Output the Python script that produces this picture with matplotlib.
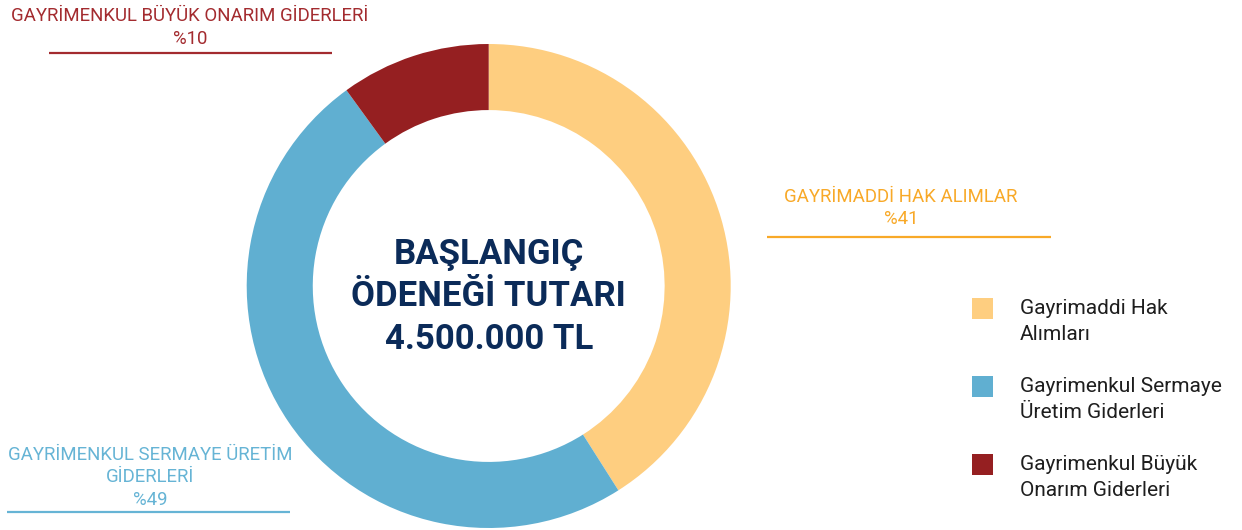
import matplotlib
matplotlib.use("Agg")
import matplotlib.pyplot as plt
from matplotlib.patches import Rectangle

# Data
categories = ["Gayrimaddi Hak\nAlımları",
              "Gayrimenkul Sermaye\nÜretim Giderleri",
              "Gayrimenkul Büyük\nOnarım Giderleri"]
shares = [41, 49, 10]
slice_colors = ["#FECE80", "#60AFD1", "#951F21"]
callout_titles = ["GAYRİMADDİ HAK ALIMLAR",
                  "GAYRİMENKUL SERMAYE ÜRETİM\nGİDERLERİ",
                  "GAYRİMENKUL BÜYÜK ONARIM GİDERLERİ"]
callout_colors = ["#F8A928", "#66B4D5", "#A32B2F"]
center_title = "BAŞLANGIÇ\nÖDENEĞİ TUTARI\n4.500.000 TL"

W, H = 1242, 530
plt.rcParams["font.family"] = ["Roboto", "DejaVu Sans"]

fig = plt.figure(figsize=(W / 100, H / 100), dpi=100)
ax = fig.add_axes([0, 0, 1, 1])

def Y(y):
    # pixel row measured from the top -> data y
    return H - y

cx, cy, R = 488.7, Y(286), 242
ax.pie(shares, colors=slice_colors, startangle=90, counterclock=False,
       center=(cx, cy), radius=R, frame=True,
       wedgeprops=dict(width=R * 0.273, linewidth=0))
ax.set_xlim(0, W)
ax.set_ylim(0, H)
ax.set_aspect("equal")
ax.axis("off")

ax.text(cx, Y(297), center_title, ha="center", va="center",
        fontsize=25, fontweight="bold", color="#0B2B59", linespacing=1.36)

# Callouts: (text centre x, first-line y, line x0, line x1, line y)
callout_pos = [(901, 197, 767, 1051, 237),
               (150, 455, 7, 290, 512),
               (190, 16, 49, 332, 53)]
for title, share, col, (tx, ty, lx0, lx1, ly) in zip(
        callout_titles, shares, callout_colors, callout_pos):
    lines = title.split("\n") + [f"%{share}"]
    for i, line in enumerate(lines):
        ax.text(tx, Y(ty + i * 22.5), line, ha="center", va="center",
                fontsize=13.4, color=col)
    ax.plot([lx0, lx1], [Y(ly), Y(ly)], color=col, lw=1.6,
            solid_capstyle="butt")

# Legend
leg_rows = [308, 386, 464]
for label, col, ry in zip(categories, slice_colors, leg_rows):
    ax.add_patch(Rectangle((972, Y(ry) - 11), 21, 21, color=col, lw=0))
    for i, line in enumerate(label.split("\n")):
        ax.text(1020, Y(ry + i * 26), line, ha="left", va="center",
                fontsize=15, color="#1E1E1E")

fig.savefig("out.png", dpi=100, facecolor="white")
